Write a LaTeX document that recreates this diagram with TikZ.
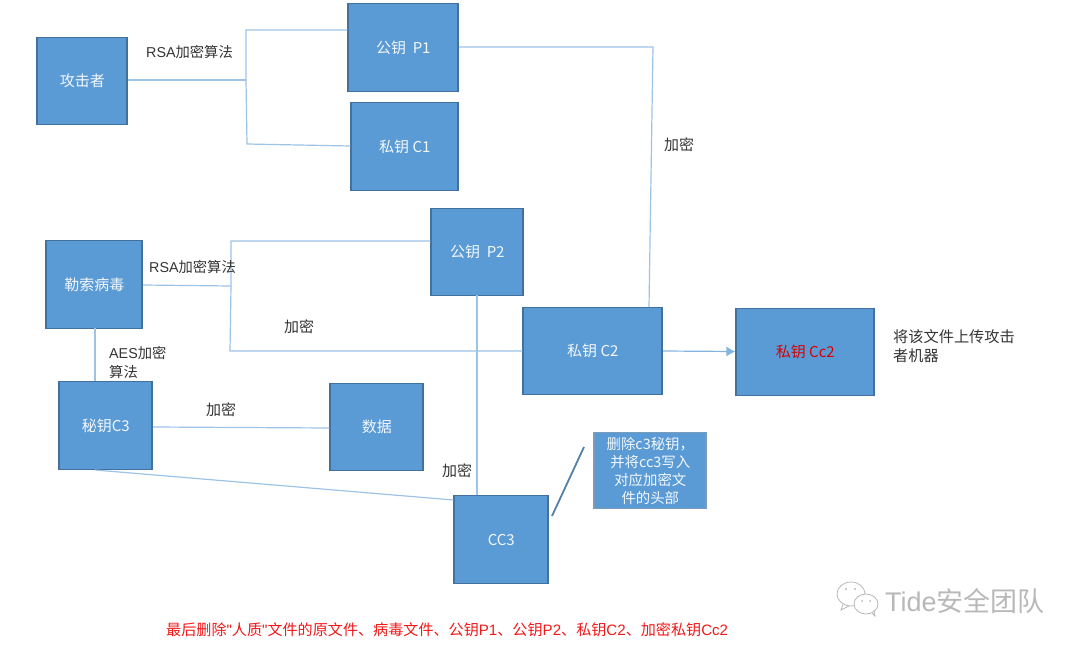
\documentclass[tikz,border=0pt]{standalone}
\usepackage{fontspec}
\usetikzlibrary{arrows.meta}
\setmainfont{Noto Sans CJK SC}
\newfontfamily\latinf{Liberation Sans}
\definecolor{boxfill}{HTML}{5B9BD5}
\definecolor{boxedge}{HTML}{41719C}
\definecolor{wire}{HTML}{9DC3E6}
\definecolor{wmark}{HTML}{B8B8B8}
\definecolor{alert}{HTML}{F01818}
\tikzset{
  x=1pt,y=-1pt,
  box/.style={draw=boxedge,line width=1.8pt,fill=boxfill,text=white!92!boxfill,font=\fontsize{15}{18}\selectfont,align=center,inner sep=0pt,anchor=north west,xshift=-0.6pt,yshift=0.4pt},
  wireline/.style={draw=wire,line width=1.2pt},
  lbl/.style={text=black!80,font=\fontsize{15}{19}\selectfont,align=left,inner sep=0pt},
  lblsmall/.style={lbl,font=\fontsize{14.3}{19}\selectfont},
}
\newcommand{\boxat}[6]{\node[box,minimum width=#4pt,minimum height=#5pt] (#1) at (#2,#3) {#6};}
\begin{document}
\begin{tikzpicture}
\useasboundingbox (0,0) rectangle (1080,648);
\coordinate (j1a) at (246,30);
\coordinate (j1b) at (247,144);
\coordinate (j1m) at (246,80);
\coordinate (j2a) at (231,241);
\coordinate (j2b) at (230,351);
\coordinate (j2m) at (231,286);
\coordinate (k1) at (653,47);
\coordinate (k2) at (649,307);
\coordinate (s1) at (584,447);
\coordinate (s2) at (552,516);
\boxat{atk}{37}{37}{90}{87}{攻击者}
\boxat{p1}{348}{3}{110}{88}{公钥 \ P1}
\boxat{c1}{351}{102}{107}{88}{私钥 C1}
\boxat{virus}{46}{240}{96}{88}{勒索病毒}
\boxat{p2}{431}{208}{92}{87}{公钥 \ P2}
\boxat{c2}{523}{307}{139}{87}{私钥 C2}
\boxat{cc2}{736}{308}{138}{87}{\textcolor{red!85!black}{私钥 Cc2}}
\boxat{c3}{59}{381}{93}{88}{秘钥C3}
\boxat{data}{330}{383}{93}{87}{数据}
\boxat{cc3}{454}{495}{94}{88}{CC3}
\node[box,draw=boxedge!70!white,minimum width=112pt,minimum height=76pt,font=\fontsize{14.4}{18}\selectfont] (note) at (594,432) {删除c3秘钥，\\并将cc3写入\\对应加密文\\件的头部};
\draw[wireline] (atk.east |- j1m) -- (j1m);
\draw[wireline] (p1.west |- j1a) -- (j1a) -- (j1m) -- (j1b) -- (c1.west |- 0,146);
\draw[wireline] (p1.east |- k1) -- (k1) -- (k2);
\draw[wireline] (virus.east |- 0,285) -- (j2m);
\draw[wireline] (p2.west |- j2a) -- (j2a) -- (j2m) -- (j2b) -- (c2.west |- j2b);
\draw[wire!60!boxfill,line width=1.2pt,-{Latex[length=9pt,width=10pt]}] (c2.east |- 0,351) -- (cc2.west |- 0,351.5);
\draw[wireline] (95,328) -- (95,381);
\draw[wireline] (c3.east |- 0,427) -- (data.west |- 0,428);
\draw[wireline] (95,470) -- (cc3.west |- 0,500);
\draw[wireline] (477,295) -- (477,495);
\draw[draw=boxedge!90!white,line width=1.8pt] (s1) -- (s2);
\node[lblsmall,anchor=west] (t1) at (146,52) {{\latinf RSA}加密算法};
\node[lblsmall,anchor=west] (t2) at (149,267) {{\latinf RSA}加密算法};
\node[lbl,anchor=west] (t3) at (664,145) {加密};
\node[lbl,anchor=west] (t4) at (284,327) {加密};
\node[lblsmall,anchor=north west] (t5) at (109,346) {{\latinf AES}加密\\算法};
\node[lbl,anchor=west] (t6) at (206,410) {加密};
\node[lbl,anchor=west] (t7) at (442,471) {加密};
\node[lbl,anchor=north west,font=\fontsize{15.2}{19}\selectfont] (t8) at (893,329) {将该文件上传攻击\\者机器};
\node[lbl,anchor=west,text=alert,font=\fontsize{15.1}{17}\selectfont] (t9) at (166,630) {最后删除{\latinf "}人质{\latinf "}文件的原文件、病毒文件、公钥{\latinf P1}、公钥{\latinf P2}、私钥{\latinf C2}、加密私钥{\latinf Cc2}};
\node[lbl,anchor=west,text=wmark,font=\fontsize{27}{30}\selectfont] (wm) at (885,601) {{\latinf Tide}安全团队};
\draw[wmark,line width=0.8pt,fill=white] (851,594) ellipse (14 and 12);
\draw[wmark,line width=0.8pt] (843,604) -- (841,610) -- (849,606);
\draw[wmark,line width=0.8pt,fill=white] (866,604) ellipse (12 and 10);
\draw[wmark,line width=0.8pt] (872,613) -- (875,616) -- (874,610);
\fill[wmark] (846,589) circle (1.2) (855,589) circle (1.2) (862,601) circle (1) (870,601) circle (1);
\end{tikzpicture}
\end{document}
